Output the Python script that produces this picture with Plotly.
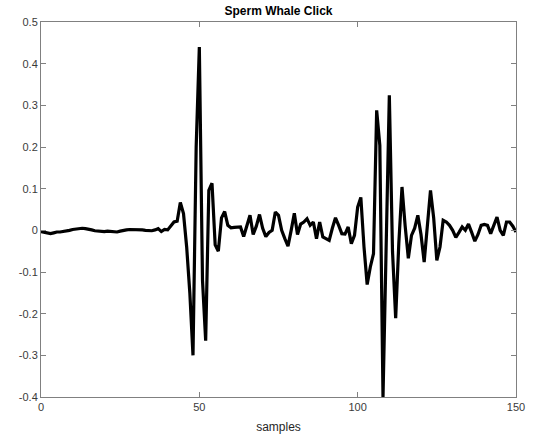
import plotly.graph_objects as go

samples = list(range(151))
amplitude = [
    -0.003, -0.005, -0.007, -0.008, -0.006, -0.004, -0.004, -0.003, -0.002, 0.000,
    0.002, 0.003, 0.004, 0.005, 0.004, 0.003, 0.001, -0.001, -0.002, -0.003,
    -0.003, -0.002, -0.003, -0.004, -0.004, -0.002, 0.000, 0.001, 0.002, 0.002,
    0.001, 0.002, 0.001, 0.000, 0.000, -0.001, 0.001, 0.004, -0.003, 0.002,
    0.001, 0.012, 0.020, 0.022, 0.067, 0.040, -0.040, -0.150, -0.300, 0.200,
    0.440, -0.120, -0.265, 0.096, 0.113, -0.035, -0.050, 0.030, 0.045, 0.012,
    0.006, 0.007, 0.008, 0.008, -0.015, 0.010, 0.036, -0.010, 0.010, 0.038,
    0.005, -0.015, -0.005, 0.000, 0.044, 0.036, 0.000, -0.020, -0.038, 0.000,
    0.041, -0.010, 0.015, 0.020, 0.028, 0.012, 0.020, -0.020, 0.020, -0.016,
    -0.020, -0.024, 0.005, 0.030, 0.012, -0.008, -0.009, 0.008, -0.032, -0.012,
    0.056, 0.079, -0.040, -0.130, -0.088, -0.056, 0.288, 0.204, -0.400, -0.020,
    0.324, -0.050, -0.211, -0.030, 0.104, 0.010, -0.067, -0.012, 0.005, 0.036,
    -0.010, -0.076, 0.010, 0.096, 0.030, -0.072, -0.040, 0.024, 0.020, 0.012,
    0.000, -0.017, -0.005, 0.008, 0.000, 0.015, -0.005, -0.026, -0.010, 0.012,
    0.014, 0.012, -0.008, 0.010, 0.032, 0.000, -0.012, 0.020, 0.020, 0.010,
    -0.004,
]

x_ticks = [0, 50, 100, 150]
x_tick_labels = ["0", "50", "100", "150"]
y_ticks = [0.5, 0.4, 0.3, 0.2, 0.1, 0, -0.1, -0.2, -0.3, -0.4]
y_tick_labels = ["0.5", "0.4", "0.3", "0.2", "0.1", "0", "-0.1", "-0.2", "-0.3", "-0.4"]

fig = go.Figure(go.Scatter(
    x=samples, y=amplitude, mode="lines",
    line=dict(color="black", width=3.2), hoverinfo="skip",
))

axis_common = dict(
    showgrid=False, zeroline=False, showline=True, linecolor="#808080", linewidth=1,
    ticks="inside", ticklen=5, tickcolor="#808080", mirror="ticks",
    tickfont=dict(family="Liberation Sans, Arial, sans-serif", size=11, color="#3a3a3a"),
)

fig.update_layout(
    width=544, height=436,
    margin=dict(l=41, r=28, t=22, b=39, autoexpand=False),
    paper_bgcolor="white", plot_bgcolor="white",
    showlegend=False,
    title=dict(text="<b>Sperm Whale Click</b>", x=(41 + 516) / 2 / 544, xanchor="center",
               y=1 - 11 / 436, yanchor="middle", yref="container",
               font=dict(family="Liberation Sans, Arial, sans-serif", size=12, color="black")),
    xaxis=dict(range=[0, 150], tickvals=x_ticks, ticktext=x_tick_labels,
               title=dict(text="samples", standoff=10,
                          font=dict(family="Liberation Sans, Arial, sans-serif", size=12, color="#262626")),
               **axis_common),
    yaxis=dict(range=[-0.4, 0.5], tickvals=y_ticks, ticktext=y_tick_labels, **axis_common),
)

fig.write_html("out.html", config={"displayModeBar": False, "staticPlot": True},
               post_script="document.body.style.margin='0';document.body.style.padding='0';")
